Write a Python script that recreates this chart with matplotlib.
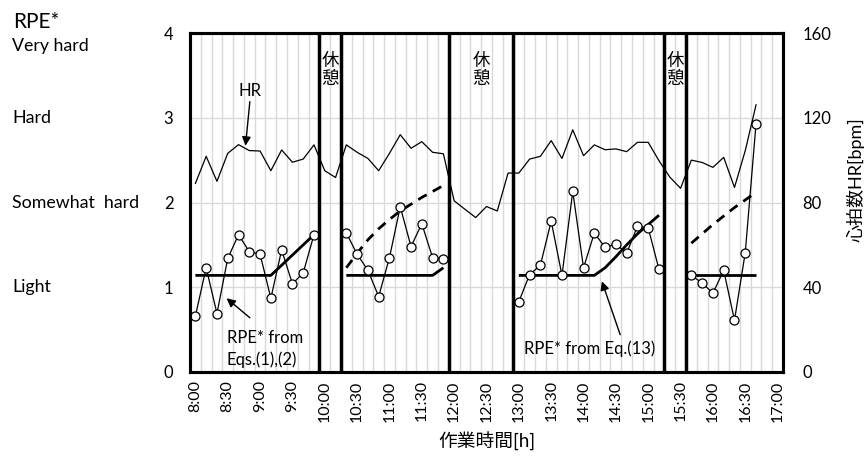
import matplotlib
matplotlib.use("Agg")
import matplotlib.pyplot as plt
import matplotlib.transforms as mtransforms
import numpy as np

plt.rcParams['font.family'] = ['Lato', 'Noto Sans CJK JP', 'DejaVu Sans']

# ---------------- data ----------------
# 10-minute categories from 8:00 to 17:00
times = [f"{8 + (i * 10) // 60}:{(i * 10) % 60:02d}" for i in range(55)]
tick_labels = ["8:00", "8:30", "9:00", "9:30", "10:00", "10:30", "11:00", "11:30",
               "12:00", "12:30", "13:00", "13:30", "14:00", "14:30", "15:00",
               "15:30", "16:00", "16:30", "17:00"]

# heart rate [bpm], 8:00 .. 16:40
hr = [89, 101.8, 90, 103.2, 107.3, 104.5, 104.3, 95, 104.8, 99, 100.5, 107.2,
      95, 91.8,
      107.2, 103.7, 100.8, 95, 103.2, 112, 105.6, 108.7, 103.7, 103,
      80.8, 76.8, 72.9, 78.1, 76, 93.9,
      93.9, 100.5, 101.8, 109.2, 100.8, 114.3, 102.1, 107.2, 104.9, 105.3, 104,
      108.4, 108.4, 99.7,
      92, 86.7,
      100, 98.9, 96.6, 101.3, 87.1, 104.5, 126.1]

# RPE* from Eqs.(1),(2) (circles), per work period
rpe_start = ["8:00", "10:20", "13:00", "15:40"]
rpe_obs = [
    [0.66, 1.23, 0.69, 1.34, 1.62, 1.42, 1.39, 0.87, 1.44, 1.04, 1.17, 1.62],
    [1.64, 1.39, 1.20, 0.89, 1.35, 1.95, 1.48, 1.75, 1.35, 1.33],
    [0.83, 1.15, 1.26, 1.78, 1.14, 2.13, 1.23, 1.64, 1.47, 1.51, 1.40, 1.72, 1.70, 1.21],
    [1.14, 1.05, 0.93, 1.20, 0.61, 1.41, 2.93],
]
# RPE* from Eq.(13) (thick solid)
rpe_eq13 = [
    [1.14, 1.14, 1.14, 1.14, 1.14, 1.14, 1.14, 1.14, 1.26, 1.38, 1.50, 1.62],
    [1.14, 1.14, 1.14, 1.14, 1.14, 1.14, 1.14, 1.14, 1.14, 1.23],
    [1.14, 1.14, 1.14, 1.14, 1.14, 1.14, 1.14, 1.14, 1.23, 1.36, 1.50, 1.63, 1.74, 1.85],
    [1.14, 1.14, 1.14, 1.14, 1.14, 1.14, 1.14],
]
# dashed curves (2nd and 4th periods)
dash_start = ["10:20", "15:40"]
rpe_dash = [
    [1.23, 1.40, 1.56, 1.69, 1.80, 1.90, 1.98, 2.06, 2.13, 2.20],
    [1.52, 1.63, 1.74, 1.84, 1.94, 2.03, 2.12],
]
# rest periods (first and last 10-min category)
breaks = [("10:00", "10:10"), ("12:00", "12:50"), ("15:20", "15:30")]

rpe_levels = ["Very hard", "Hard", "Somewhat  hard", "Light"]
rpe_level_vals = [3.85, 3, 2, 1]

# ---------------- figure ----------------
W, H = 866, 459
fig = plt.figure(figsize=(W / 100, H / 100), dpi=100)
L, R, T, B = 190, 783, 33, 372
ax = fig.add_axes([L / W, 1 - B / H, (R - L) / W, (B - T) / H])
ax2 = ax.twinx()

n = len(times)
ax.set_xlim(-0.5, n - 0.5)
ax.set_ylim(0, 4)
ax2.set_ylim(0, 160)

# grid
ax.set_xticks(np.arange(-0.5, n, 1), minor=True)
ax.grid(which='minor', axis='x', color='#d9d9d9', lw=1, zorder=0)
ax.set_yticks([0, 1, 2, 3, 4])
ax.grid(which='major', axis='y', color='#d9d9d9', lw=1, zorder=0)
ax.tick_params(which='both', length=0)
ax.tick_params(axis='y', pad=12, labelsize=12)
ax2.set_yticks([0, 40, 80, 120, 160])
ax2.tick_params(length=0, pad=14, labelsize=12)

ax.set_xticks([times.index(t) for t in tick_labels])
ax.set_xticklabels(tick_labels, rotation=90, fontsize=11.5)
ax.tick_params(axis='x', pad=6)

for sp in list(ax.spines.values()) + list(ax2.spines.values()):
    sp.set_linewidth(2.2)
    sp.set_color('black')

# break boundaries
for a, b in breaks:
    i0, i1 = times.index(a), times.index(b)
    ax.axvline(i0 - 0.5, color='black', lw=2.5, zorder=5)
    ax.axvline(i1 + 0.5, color='black', lw=2.5, zorder=5)
    ax.text((i0 + i1) / 2, 3.56, "休\n憩", ha='center', va='center',
            fontsize=12.5, linespacing=1.0, zorder=6,
            family=['Noto Sans CJK JP'])

# HR line
ax2.plot(np.arange(len(hr)), hr, color='black', lw=0.9, zorder=3)

# RPE lines
for st, obs, eq in zip(rpe_start, rpe_obs, rpe_eq13):
    s = times.index(st)
    xs = np.arange(s, s + len(obs))
    ax.plot(np.arange(s, s + len(eq)), eq, color='black', lw=2, zorder=3,
            solid_capstyle='butt')
    ax.plot(xs, obs, color='black', lw=0.9, marker='o', markersize=6.5,
            markerfacecolor='white', markeredgecolor='black', markeredgewidth=0.9,
            zorder=4)
for st, d in zip(dash_start, rpe_dash):
    s = times.index(st)
    ax.plot(np.arange(s, s + len(d)), d, color='black', lw=2, ls=(0, (3.5, 2.5)),
            zorder=3)

# annotations
arrow = dict(arrowstyle='-|>', color='black', lw=1, mutation_scale=13,
             shrinkA=0, shrinkB=0)
ax.text(5.05, 3.31, "HR", ha='center', va='center', fontsize=12)
ax.annotate("", xy=(4.65, 2.67), xytext=(5.05, 3.19), arrowprops=arrow)

ax.text(2.9, 0.27, "RPE* from\nEqs.(1),(2)", ha='left', va='center',
        fontsize=12, linespacing=1.35)
ax.annotate("", xy=(2.89, 0.87), xytext=(5.05, 0.64), arrowprops=arrow)

ax.text(36.6, 0.28, "RPE* from Eq.(13)", ha='center', va='center', fontsize=12)
ax.annotate("", xy=(37.7, 1.07), xytext=(39.4, 0.44), arrowprops=arrow)

# left RPE category labels
trans = mtransforms.blended_transform_factory(fig.transFigure, ax.transData)
for lab, v in zip(rpe_levels, rpe_level_vals):
    fig.text(12 / W, v, lab, transform=trans, ha='left', va='center', fontsize=12.8)
fig.text(13 / W, 1 - 22 / H, "RPE*", ha='left', va='center', fontsize=15)

fig.text(487 / W, 1 - 441 / H, "作業時間[h]", ha='center', va='center', fontsize=13.5)
fig.text(855 / W, 1 - 180 / H, "心拍数HR[bpm]", ha='center', va='center',
         fontsize=13, rotation=90)

fig.savefig("out.png", dpi=100)
